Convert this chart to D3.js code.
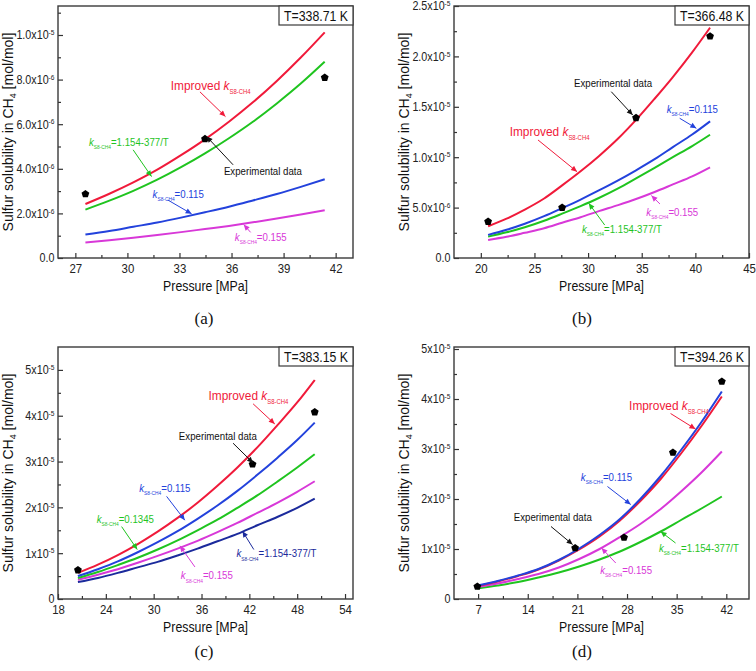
<!DOCTYPE html>
<html><head><meta charset="utf-8">
<script src="https://cdn.jsdelivr.net/npm/d3@7"></script>
<style>body{margin:0;background:#fff}svg{display:block}</style>
</head><body>
<svg id="chart" width="756" height="671"></svg>
<script>
// ---------- DATA ----------
// Panel (a) T = 338.71 K  (solubility in units of 1e-6 mol/mol)
const pressureA   = [27.58, 28.96, 30.34, 31.72, 33.09, 34.47, 35.85, 37.23, 38.61, 39.99, 41.37];
const improvedA   = [2.42, 2.88, 3.39, 3.96, 4.61, 5.32, 6.11, 6.98, 7.94, 8.99, 10.12];
const tempDepA    = [2.17, 2.57, 3.01, 3.51, 4.07, 4.69, 5.37, 6.11, 6.93, 7.82, 8.80];
const k0115A      = [1.05, 1.21, 1.40, 1.59, 1.81, 2.05, 2.30, 2.58, 2.87, 3.19, 3.53];
const k0155A      = [0.70, 0.80, 0.91, 1.03, 1.16, 1.30, 1.44, 1.60, 1.77, 1.95, 2.14];
const expPressureA = [27.58, 34.47, 41.37];
const expA         = [2.87, 5.34, 8.09];
const xTicksA = [27, 30, 33, 36, 39, 42];
const xMinorA = [28.5, 31.5, 34.5, 37.5, 40.5];
const yTicksA = [0, 2, 4, 6, 8, 10];
const yMinorA = [1, 3, 5, 7, 9, 11];
const yTickLabelsA = [["0.0",""],["2.0x10","-6"],["4.0x10","-6"],["6.0x10","-6"],["8.0x10","-6"],["1.0x10","-5"]];

// Panel (b) T = 366.48 K  (units of 1e-6 mol/mol)
const pressureB   = [20.68, 22.4, 24.1, 25.9, 27.58, 29.3, 31.0, 32.8, 34.47, 36.2, 37.9, 39.7, 41.37];
const improvedB   = [3.15, 3.9, 4.8, 5.9, 7.2, 8.6, 10.1, 11.85, 13.7, 15.8, 17.95, 20.4, 22.85];
const k0115B      = [2.29, 2.8, 3.4, 4.15, 4.95, 5.8, 6.7, 7.7, 8.7, 9.8, 11.0, 12.25, 13.56];
const tempDepB    = [2.12, 2.55, 3.05, 3.7, 4.4, 5.15, 5.95, 6.9, 7.9, 8.95, 10.0, 11.1, 12.23];
const k0155B      = [1.79, 2.1, 2.5, 2.95, 3.5, 4.05, 4.65, 5.25, 5.85, 6.55, 7.3, 8.1, 9.0];
const expPressureB = [20.68, 27.58, 34.47, 41.37];
const expB         = [3.61, 5.0, 13.9, 22.0];
const xTicksB = [20, 25, 30, 35, 40, 45];
const xMinorB = [22.5, 27.5, 32.5, 37.5, 42.5];
const yTicksB = [0, 5, 10, 15, 20, 25];
const yMinorB = [2.5, 7.5, 12.5, 17.5, 22.5];
const yTickLabelsB = [["0.0",""],["5.0x10","-6"],["1.0x10","-5"],["1.5x10","-5"],["2.0x10","-5"],["2.5x10","-5"]];

// Panel (c) T = 383.15 K  (units of 1e-5 mol/mol)
const pressureC   = [20.5, 23, 25.5, 28, 30.5, 33, 35.5, 38, 40.5, 43, 45.5, 48, 50.2];
const improvedC   = [0.57, 0.75, 0.96, 1.2, 1.47, 1.77, 2.1, 2.47, 2.87, 3.31, 3.79, 4.29, 4.78];
const k0115C      = [0.5, 0.65, 0.82, 1.02, 1.24, 1.48, 1.75, 2.04, 2.36, 2.71, 3.08, 3.47, 3.85];
const k01345C     = [0.46, 0.59, 0.74, 0.90, 1.08, 1.28, 1.50, 1.73, 1.99, 2.26, 2.56, 2.87, 3.16];
const k0155C      = [0.42, 0.53, 0.65, 0.79, 0.94, 1.1, 1.27, 1.46, 1.66, 1.88, 2.1, 2.34, 2.57];
const tempDepC    = [0.37, 0.46, 0.57, 0.69, 0.81, 0.95, 1.1, 1.26, 1.42, 1.61, 1.79, 1.99, 2.19];
const expPressureC = [20.5, 42.4, 50.2];
const expC         = [0.63, 2.94, 4.08];
const xTicksC = [18, 24, 30, 36, 42, 48, 54];
const xMinorC = [21, 27, 33, 39, 45, 51];
const yTicksC = [0, 1, 2, 3, 4, 5];
const yMinorC = [0.5, 1.5, 2.5, 3.5, 4.5];
const yTickLabelsC = [["0",""],["1x10","-5"],["2x10","-5"],["3x10","-5"],["4x10","-5"],["5x10","-5"]];

// Panel (d) T = 394.26 K  (units of 1e-5 mol/mol)
const pressureD   = [6.89, 9.76, 12.64, 15.51, 18.38, 21.26, 24.13, 27.0, 29.88, 32.75, 35.62, 38.5, 41.37];
const k0115D      = [0.27, 0.36, 0.47, 0.60, 0.78, 1.01, 1.28, 1.60, 2.00, 2.46, 2.98, 3.54, 4.15];
const improvedD   = [0.26, 0.35, 0.46, 0.59, 0.77, 0.99, 1.25, 1.57, 1.96, 2.40, 2.91, 3.46, 4.05];
const k0155D      = [0.24, 0.31, 0.40, 0.50, 0.63, 0.80, 1.00, 1.24, 1.50, 1.80, 2.15, 2.53, 2.95];
const tempDepD    = [0.21, 0.27, 0.34, 0.43, 0.53, 0.65, 0.79, 0.95, 1.14, 1.35, 1.58, 1.81, 2.05];
const expPressureD = [6.89, 20.68, 27.58, 34.47, 41.37];
const expD         = [0.25, 1.02, 1.23, 2.93, 4.35];
const xTicksD = [7, 14, 21, 28, 35, 42];
const xMinorD = [10.5, 17.5, 24.5, 31.5, 38.5];
const yTicksD = [0, 1, 2, 3, 4, 5];
const yMinorD = [0.5, 1.5, 2.5, 3.5, 4.5];
const yTickLabelsD = [["0",""],["1x10","-5"],["2x10","-5"],["3x10","-5"],["4x10","-5"],["5x10","-5"]];

// ---------- STYLE ----------
const C = {red:"#f01a3a", green:"#1fc41f", blue:"#2342dc", magenta:"#d838d8", navy:"#1b2a9c", black:"#111"};
const SANS = "'Liberation Sans', Arial, Helvetica, sans-serif";
const SERIF = "'Liberation Serif', 'Times New Roman', serif";
const SX = 0.88; // horizontal squeeze of the original's lettering

const svg = d3.select("#chart");
const defs = svg.append("defs");
Object.entries(C).forEach(([k,col]) => {
  defs.append("marker").attr("id","ah-"+k).attr("viewBox","0 0 10 10")
    .attr("refX",10).attr("refY",5).attr("markerUnits","userSpaceOnUse")
    .attr("markerWidth",7).attr("markerHeight",6).attr("orient","auto")
    .append("path").attr("d","M0,0.5 L10,5 L0,9.5 Z").attr("fill",col);
});

const pentagon = {
  draw(ctx, size) {
    const r = Math.sqrt(size / 2.378);
    for (let i = 0; i < 5; i++) {
      const a = -Math.PI/2 + i*2*Math.PI/5;
      const px = r*Math.cos(a), py = r*Math.sin(a);
      if (i === 0) ctx.moveTo(px, py); else ctx.lineTo(px, py);
    }
    ctx.closePath();
  }
};

const panels = [
  { left:58, right:353, top:6, bottom:258, xDomain:[26,43], yDomain:[0,11.3],
    xTicks:xTicksA, xMinor:xMinorA, yTicks:yTicksA, yMinor:yMinorA, yLabels:yTickLabelsA,
    series:[{p:pressureA,v:k0155A,c:C.magenta},{p:pressureA,v:k0115A,c:C.blue},{p:pressureA,v:tempDepA,c:C.green},{p:pressureA,v:improvedA,c:C.red}],
    exp:{p:expPressureA, v:expA}, temp:"T=338.71 K", letter:"(a)", letterPos:[204,318],
    notes:[
      {kind:"improved", col:"red", fs:13.5, at:[32.5,7.74], arrow:[34.18,7.45,35.65,6.34]},
      {kind:"k", rest:"=1.154-377/T", col:"green", fs:11, at:[27.78,5.18], arrow:[30.33,4.85,31.39,3.65]},
      {kind:"plain", rest:"Experimental data", col:"black", fs:11, at:[35.56,3.91], arrow:[36.09,4.18,34.56,5.45]},
      {kind:"k", rest:"=0.115", col:"blue", fs:11, at:[31.45,2.87], arrow:[32.33,2.60,33.70,1.98]},
      {kind:"k", rest:"=0.155", col:"magenta", fs:11, at:[36.19,0.94], arrow:[37.1,1.15,36.7,1.5]}
    ]},
  { left:454, right:749, top:6, bottom:258, xDomain:[17.5,45], yDomain:[0,25],
    xTicks:xTicksB, xMinor:xMinorB, yTicks:yTicksB, yMinor:yMinorB, yLabels:yTickLabelsB,
    series:[{p:pressureB,v:k0155B,c:C.magenta},{p:pressureB,v:tempDepB,c:C.green},{p:pressureB,v:k0115B,c:C.blue},{p:pressureB,v:improvedB,c:C.red}],
    exp:{p:expPressureB, v:expB}, temp:"T=366.48 K", letter:"(b)", letterPos:[582,318],
    notes:[
      {kind:"plain", rest:"Experimental data", col:"black", fs:11, at:[28.69,17.36], arrow:[32.16,16.5,34.16,14.19]},
      {kind:"k", rest:"=0.115", col:"blue", fs:11, at:[37.33,14.78], arrow:[38.54,13.86,40.09,12.87]},
      {kind:"improved", col:"red", fs:13.5, at:[22.69,12.53], arrow:[25.33,11.71,28.97,8.56]},
      {kind:"k", rest:"=0.155", col:"magenta", fs:11, at:[35.43,4.56], arrow:[36.7,5.36,35.9,6.2]},
      {kind:"k", rest:"=1.154-377/T", col:"green", fs:11, at:[29.43,2.88], arrow:[31.55,3.27,30.06,5.43]}
    ]},
  { left:58, right:353, top:347, bottom:599, xDomain:[18,55], yDomain:[0,5.5],
    xTicks:xTicksC, xMinor:xMinorC, yTicks:yTicksC, yMinor:yMinorC, yLabels:yTickLabelsC,
    series:[{p:pressureC,v:tempDepC,c:C.navy},{p:pressureC,v:k0155C,c:C.magenta},{p:pressureC,v:k01345C,c:C.green},{p:pressureC,v:k0115C,c:C.blue},{p:pressureC,v:improvedC,c:C.red}],
    exp:{p:expPressureC, v:expC}, temp:"T=383.15 K", letter:"(c)", letterPos:[204,651],
    notes:[
      {kind:"improved", col:"red", fs:13.5, at:[36.88,4.44], arrow:[42.47,4.26,45.19,3.82]},
      {kind:"plain", rest:"Experimental data", col:"black", fs:11, at:[33.16,3.56], arrow:[39.96,3.40,42.47,2.97]},
      {kind:"k", rest:"=0.115", col:"blue", fs:11, at:[28.19,2.42], arrow:[31.62,2.24,33.91,1.72]},
      {kind:"k", rest:"=0.1345", col:"green", fs:11, at:[22.85,1.75], arrow:[25.98,1.58,27.94,1.08]},
      {kind:"k", rest:"=1.154-377/T", col:"navy", fs:11, at:[40.39,0.99], arrow:[42.56,1.08,41.14,1.48]},
      {kind:"k", rest:"=0.155", col:"magenta", fs:11, at:[33.41,0.51], arrow:[35.17,0.70,33.29,1.16]}
    ]},
  { left:454, right:749, top:347, bottom:599, xDomain:[3.6,45.2], yDomain:[0,5.04],
    xTicks:xTicksD, xMinor:xMinorD, yTicks:yTicksD, yMinor:yMinorD, yLabels:yTickLabelsD,
    series:[{p:pressureD,v:tempDepD,c:C.green},{p:pressureD,v:k0155D,c:C.magenta},{p:pressureD,v:improvedD,c:C.red},{p:pressureD,v:k0115D,c:C.blue}],
    exp:{p:expPressureD, v:expD}, temp:"T=394.26 K", letter:"(d)", letterPos:[582,651],
    notes:[
      {kind:"improved", col:"red", fs:13.5, at:[28.29,3.87], arrow:[34.14,3.71,37.65,3.40]},
      {kind:"k", rest:"=0.115", col:"blue", fs:11, at:[21.49,2.44], arrow:[25.24,2.25,28.52,1.89]},
      {kind:"plain", rest:"Experimental data", col:"black", fs:11, at:[12.03,1.64], arrow:[17.28,1.45,20.33,1.09]},
      {kind:"k", rest:"=1.154-377/T", col:"green", fs:11, at:[32.51,1.02], arrow:[34.84,1.12,32.74,1.35]},
      {kind:"k", rest:"=0.155", col:"magenta", fs:11, at:[24.22,0.57], arrow:[26.41,0.72,24.40,1.02]}
    ]}
];

// squeezed text helper: places text at (px,py) with horizontal scale SX
function sq(g, px, py) {
  return g.append("text").attr("transform", `translate(${px},${py}) scale(${SX},1)`);
}

function addLabel(g, px, py, note) {
  const fs = note.fs, col = C[note.col];
  const t = sq(g, px, py + fs*0.35)
    .attr("font-family", SANS).attr("font-size", fs).attr("fill", col);
  const sub = () => {
    t.append("tspan").attr("font-style","italic").text("k");
    t.append("tspan").attr("font-size", fs*0.5).attr("dy", fs*0.28).text("S8-CH4");
  };
  if (note.kind === "improved") {
    t.append("tspan").text("Improved ");
    sub();
  } else if (note.kind === "k") {
    sub();
    t.append("tspan").attr("dy", -fs*0.28).text(note.rest);
  } else {
    t.text(note.rest);
  }
}

panels.forEach(P => {
  const g = svg.append("g");
  const x = d3.scaleLinear().domain(P.xDomain).range([P.left, P.right]);
  const y = d3.scaleLinear().domain(P.yDomain).range([P.bottom, P.top]);

  // x axis (ticks inward)
  const gx = g.append("g").attr("transform", `translate(0,${P.bottom})`)
    .call(d3.axisBottom(x).tickValues(P.xTicks).tickSize(-5).tickPadding(6).tickFormat(d3.format("d")));
  gx.select(".domain").remove();
  gx.selectAll("text").attr("font-family", SANS).attr("font-size", 13).attr("fill", "#222")
    .attr("transform", `scale(${SX},1)`);
  gx.selectAll("line").attr("stroke", "#333").attr("stroke-width", 1.2);
  const gxm = g.append("g").attr("transform", `translate(0,${P.bottom})`)
    .call(d3.axisBottom(x).tickValues(P.xMinor).tickSize(-3).tickFormat(""));
  gxm.select(".domain").remove();
  gxm.selectAll("line").attr("stroke", "#333").attr("stroke-width", 1.2);

  // y axis
  const gy = g.append("g").attr("transform", `translate(${P.left},0)`)
    .call(d3.axisLeft(y).tickValues(P.yTicks).tickSize(-5).tickPadding(4).tickFormat(""));
  gy.select(".domain").remove();
  gy.selectAll("line").attr("stroke", "#333").attr("stroke-width", 1.2);
  gy.selectAll(".tick text").each(function(d, i) {
    const lab = P.yLabels[i];
    const t = d3.select(this).attr("font-family", SANS).attr("font-size", 12.2).attr("fill", "#222")
      .attr("transform", `scale(${SX},1)`);
    t.append("tspan").text(lab[0]);
    if (lab[1]) t.append("tspan").attr("font-size", 7.5).attr("dy", "-0.55em").text(lab[1]);
  });
  const gym = g.append("g").attr("transform", `translate(${P.left},0)`)
    .call(d3.axisLeft(y).tickValues(P.yMinor.filter(v => v <= P.yDomain[1])).tickSize(-3).tickFormat(""));
  gym.select(".domain").remove();
  gym.selectAll("line").attr("stroke", "#333").attr("stroke-width", 1.2);

  // frame
  g.append("rect").attr("x", P.left).attr("y", P.top)
    .attr("width", P.right - P.left).attr("height", P.bottom - P.top)
    .attr("fill", "none").attr("stroke", "#3a3a3a").attr("stroke-width", 1.4);

  // curves
  const line = d3.line().x(d => x(d[0])).y(d => y(d[1])).curve(d3.curveMonotoneX);
  P.series.forEach(s => {
    g.append("path").datum(s.p.map((pp, i) => [pp, s.v[i]]))
      .attr("d", line).attr("fill", "none").attr("stroke", s.c).attr("stroke-width", 2);
  });

  // experimental points
  const sym = d3.symbol().type(pentagon).size(40);
  P.exp.p.forEach((pp, i) => {
    g.append("path").attr("d", sym()).attr("fill", "#000")
      .attr("transform", `translate(${x(pp)},${y(P.exp.v[i])})`);
  });

  // annotations
  P.notes.forEach(n => {
    const a = n.arrow;
    g.append("line").attr("x1", x(a[0])).attr("y1", y(a[1])).attr("x2", x(a[2])).attr("y2", y(a[3]))
      .attr("stroke", C[n.col]).attr("stroke-width", 1).attr("marker-end", `url(#ah-${n.col})`);
    addLabel(g, x(n.at[0]), y(n.at[1]), n);
  });

  // temperature box
  g.append("rect").attr("x", P.right - 74).attr("y", P.top).attr("width", 74).attr("height", 19)
    .attr("fill", "#fff").attr("stroke", "#3a3a3a").attr("stroke-width", 1.2);
  sq(g, P.right - 37, P.top + 14.5).attr("text-anchor", "middle")
    .attr("font-family", SANS).attr("font-size", 14).attr("fill", "#111").text(P.temp);

  // axis titles
  sq(g, (P.left + P.right) / 2, P.bottom + 33).attr("text-anchor", "middle")
    .attr("font-family", SANS).attr("font-size", 14).attr("fill", "#111").text("Pressure [MPa]");
  const yt = g.append("text").attr("transform", `translate(${P.left - 45},${(P.top + P.bottom) / 2}) rotate(-90)`)
    .attr("text-anchor", "middle").attr("font-family", SANS).attr("font-size", 14).attr("fill", "#111");
  yt.append("tspan").text("Sulfur solubility in CH");
  yt.append("tspan").attr("font-size", 9).attr("dy", 3).text("4");
  yt.append("tspan").attr("dy", -3).text(" [mol/mol]");

  // panel letter
  g.append("text").attr("x", P.letterPos[0]).attr("y", P.letterPos[1] + 5.5).attr("text-anchor", "middle")
    .attr("font-family", SERIF).attr("font-size", 17).attr("fill", "#111").text(P.letter);
});
</script>
</body></html>
